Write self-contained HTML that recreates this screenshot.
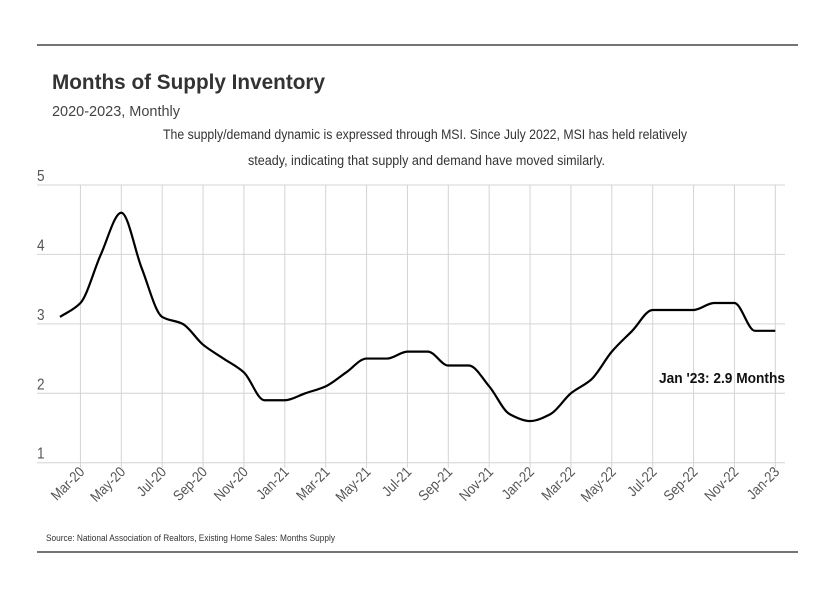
<!DOCTYPE html>
<html>
<head>
<meta charset="utf-8">
<style>
  html,body{margin:0;padding:0;background:#fff;}
  body{width:832px;height:593px;overflow:hidden;position:relative;font-family:"Liberation Sans",sans-serif;color:#333;}
  svg{position:absolute;left:0;top:0;}
</style>
</head>
<body>
<svg id="chart" width="832" height="593">
  <line x1="37" y1="45" x2="798" y2="45" stroke="#222" stroke-width="1.2"/>
  <text x="52" y="89" font-size="21" font-weight="bold" fill="#333" textLength="273" lengthAdjust="spacingAndGlyphs">Months of Supply Inventory</text>
  <text x="52" y="116" font-size="15" fill="#444" textLength="128" lengthAdjust="spacingAndGlyphs">2020-2023, Monthly</text>
  <text x="163" y="139" font-size="13.5" fill="#333" textLength="524" lengthAdjust="spacingAndGlyphs">The supply/demand dynamic is expressed through MSI. Since July 2022, MSI has held relatively</text>
  <text x="248" y="165" font-size="13.5" fill="#333" textLength="357" lengthAdjust="spacingAndGlyphs">steady, indicating that supply and demand have moved similarly.</text>
  <g id="grid"></g>
  <g id="yticks"></g>
  <g id="xticks"></g>
  <path id="line" fill="none" stroke="#000" stroke-width="2.2"/>
  <text x="659" y="383" font-size="15" font-weight="bold" fill="#111" textLength="126" lengthAdjust="spacingAndGlyphs">Jan '23: 2.9 Months</text>
  <text x="46" y="541" font-size="9.5" fill="#333" textLength="289" lengthAdjust="spacingAndGlyphs">Source:  National Association of Realtors, Existing Home Sales: Months Supply</text>
  <line x1="37" y1="552" x2="798" y2="552" stroke="#222" stroke-width="1.2"/>
</svg>
<script>
const months = ["Feb-20","Mar-20","Apr-20","May-20","Jun-20","Jul-20","Aug-20","Sep-20","Oct-20","Nov-20","Dec-20",
  "Jan-21","Feb-21","Mar-21","Apr-21","May-21","Jun-21","Jul-21","Aug-21","Sep-21","Oct-21","Nov-21","Dec-21",
  "Jan-22","Feb-22","Mar-22","Apr-22","May-22","Jun-22","Jul-22","Aug-22","Sep-22","Oct-22","Nov-22","Dec-22","Jan-23"];
const msiValues = [3.1,3.3,4.0,4.6,3.8,3.1,3.0,2.7,2.5,2.3,1.9,
  1.9,2.0,2.1,2.3,2.5,2.5,2.6,2.6,2.4,2.4,2.1,1.7,
  1.6,1.7,2.0,2.2,2.6,2.9,3.2,3.2,3.2,3.3,3.3,2.9,2.9];
const yTicks = [1,2,3,4,5];
const xTickLabels = ["Mar-20","May-20","Jul-20","Sep-20","Nov-20","Jan-21","Mar-21","May-21","Jul-21","Sep-21","Nov-21","Jan-22","Mar-22","May-22","Jul-22","Sep-22","Nov-22","Jan-23"];

const NS = "http://www.w3.org/2000/svg";
const x0 = 60, x1 = 775.3, yTop = 185, yBot = 462.7, plotL = 37, plotR = 785;
function xScale(i){ return x0 + (x1 - x0) * i / (months.length - 1); }
function yScale(v){ return yBot - (v - 1) / 4 * (yBot - yTop); }
function mk(tag, attrs, parent){ const e = document.createElementNS(NS, tag); for (const k in attrs) e.setAttribute(k, attrs[k]); parent.appendChild(e); return e; }

const grid = document.getElementById('grid');
const yg = document.getElementById('yticks');
yTicks.forEach(v => {
  const l = mk('line', {x1: plotL, x2: plotR, y1: yScale(v), y2: yScale(v), stroke: '#d4d4d4', 'stroke-width': 1}, grid);
  
  
  const t = mk('text', {x: 37, y: yScale(v) - 4, 'font-size': 16, fill: '#555', transform: `translate(37 0) scale(0.85 1) translate(-37 0)`}, yg);
  t.textContent = v;
  
  
});
const xg = document.getElementById('xticks');
xTickLabels.forEach(lab => {
  const i = months.indexOf(lab);
  const x = xScale(i);
  const l = mk('line', {x1: x, x2: x, y1: yTop, y2: yBot + 5, stroke: '#d4d4d4', 'stroke-width': 1}, grid);
  
  
  const ax = x + 5, ay = yBot + 10;
  const t = mk('text', {x: 0, y: 0, 'font-size': 14.5, fill: '#555', 'text-anchor': 'end', transform: `translate(${ax} ${ay}) rotate(-45) scale(0.88 1)`}, xg);
  t.textContent = lab;
  
  
});

const P = msiValues.map((v, i) => [xScale(i), yScale(v)]);
const n = P.length, d = [], m = [];
for (let i = 0; i < n - 1; i++) d.push((P[i+1][1] - P[i][1]) / (P[i+1][0] - P[i][0]));
m[0] = d[0]; m[n-1] = d[n-2];
for (let i = 1; i < n - 1; i++) m[i] = (d[i-1] * d[i] <= 0) ? 0 : (2 * d[i-1] * d[i]) / (d[i-1] + d[i]);
let path = `M${P[0][0]},${P[0][1]}`;
for (let i = 0; i < n - 1; i++) {
  const h = (P[i+1][0] - P[i][0]) / 3;
  path += ` C${P[i][0] + h},${P[i][1] + m[i] * h} ${P[i+1][0] - h},${P[i+1][1] - m[i+1] * h} ${P[i+1][0]},${P[i+1][1]}`;
}
document.getElementById('line').setAttribute('d', path);
</script>
</body>
</html>
